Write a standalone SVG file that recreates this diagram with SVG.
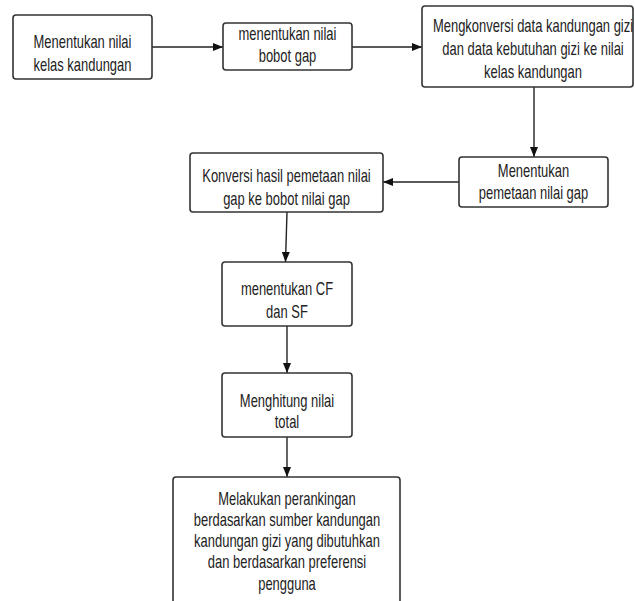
<svg xmlns="http://www.w3.org/2000/svg" width="635" height="601" viewBox="0 0 635 601">
<style>
.box{fill:#fff;stroke:#333;stroke-width:1.6}
.t{font-family:"Liberation Sans",Arial,sans-serif;font-size:18px;fill:#222;text-anchor:middle}
.c{fill:none;stroke:#222;stroke-width:1.4}
</style>
<defs>
<marker id="ah" markerUnits="userSpaceOnUse" markerWidth="10" markerHeight="8" refX="10" refY="4" orient="auto">
<path d="M0,0 L10,4 L0,8 z" fill="#111"/>
</marker>
</defs>
<rect width="635" height="601" fill="#fff"/>
<g id="connectors">
<path class="c" d="M152,47 H223" marker-end="url(#ah)"/>
<path class="c" d="M352,47 H422" marker-end="url(#ah)"/>
<path class="c" d="M534,87 V157" marker-end="url(#ah)"/>
<path class="c" d="M459,182 H383" marker-end="url(#ah)"/>
<path class="c" d="M287,212 L285.5,262" marker-end="url(#ah)"/>
<path class="c" d="M287,326 V373" marker-end="url(#ah)"/>
<path class="c" d="M287,437 V477" marker-end="url(#ah)"/>
</g>
<g id="n1">
<rect class="box" x="13" y="15" width="139" height="64" rx="3"/>
<text class="t" transform="translate(82.5,0) scale(0.72,1)"><tspan x="0" y="48">Menentukan nilai</tspan><tspan x="0" y="71">kelas kandungan</tspan></text>
</g>
<g id="n2">
<rect class="box" x="223" y="23" width="129" height="47" rx="3"/>
<text class="t" transform="translate(287.5,0) scale(0.72,1)"><tspan x="0" y="40">menentukan nilai</tspan><tspan x="0" y="62">bobot gap</tspan></text>
</g>
<g id="n3">
<rect class="box" x="422" y="6" width="211" height="81" rx="3"/>
<text class="t" transform="translate(533,0) scale(0.72,1)"><tspan x="0" y="32">Mengkonversi data kandungan gizi</tspan><tspan x="0" y="55">dan data kebutuhan gizi ke nilai</tspan><tspan x="0" y="78">kelas kandungan</tspan></text>
</g>
<g id="n4">
<rect class="box" x="459" y="157" width="149" height="50" rx="3"/>
<text class="t" transform="translate(533.5,0) scale(0.72,1)"><tspan x="0" y="177">Menentukan</tspan><tspan x="0" y="199">pemetaan nilai gap</tspan></text>
</g>
<g id="n5">
<rect class="box" x="190" y="153" width="193" height="59" rx="3"/>
<text class="t" transform="translate(286.5,0) scale(0.72,1)"><tspan x="0" y="182">Konversi hasil pemetaan nilai</tspan><tspan x="0" y="205">gap ke bobot nilai gap</tspan></text>
</g>
<g id="n6">
<rect class="box" x="222" y="262" width="130" height="64" rx="3"/>
<text class="t" transform="translate(287,0) scale(0.72,1)"><tspan x="0" y="295">menentukan CF</tspan><tspan x="0" y="318">dan SF</tspan></text>
</g>
<g id="n7">
<rect class="box" x="222" y="373" width="130" height="64" rx="3"/>
<text class="t" transform="translate(287,0) scale(0.72,1)"><tspan x="0" y="407">Menghitung nilai</tspan><tspan x="0" y="428">total</tspan></text>
</g>
<g id="n8">
<rect class="box" x="173" y="477" width="227" height="140" rx="3"/>
<text class="t" transform="translate(287,0) scale(0.72,1)"><tspan x="0" y="505">Melakukan perankingan</tspan><tspan x="0" y="526">berdasarkan sumber kandungan</tspan><tspan x="0" y="547">kandungan gizi yang dibutuhkan</tspan><tspan x="0" y="568">dan berdasarkan preferensi</tspan><tspan x="0" y="590">pengguna</tspan></text>
</g>
</svg>
